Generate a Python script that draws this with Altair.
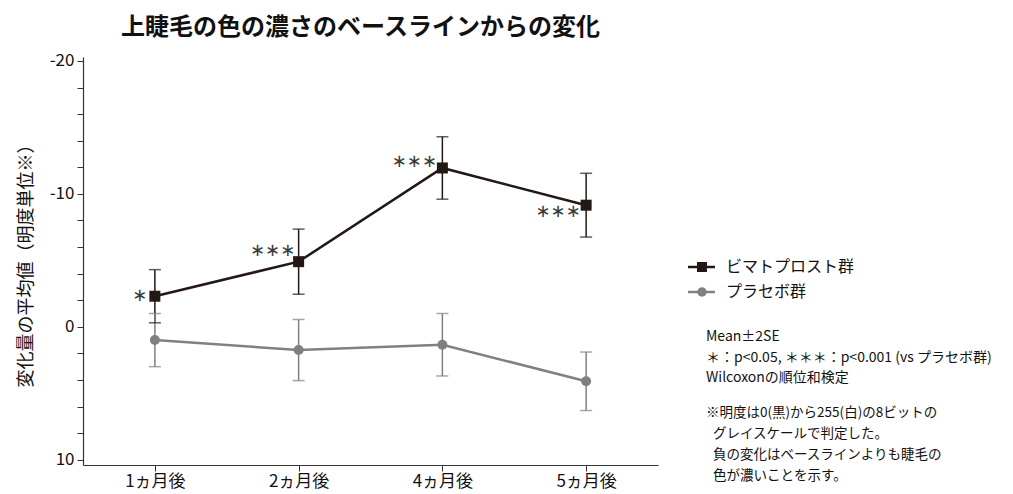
import altair as alt
import pandas as pd

# ---- data ----
months = ["1ヵ月後", "2ヵ月後", "4ヵ月後", "5ヵ月後"]
groups = ["ビマトプロスト群", "プラセボ群"]
bimat_mean = [-2.3, -4.9, -11.95, -9.15]
bimat_err = [2.0, 2.45, 2.35, 2.4]
placebo_mean = [1.0, 1.75, 1.35, 4.1]
placebo_err = [2.0, 2.3, 2.35, 2.2]
sig_labels = ["∗", "∗∗∗", "∗∗∗", "∗∗∗"]
y_tick_values = [-20, -18, -16, -14, -12, -10, -8, -6, -4, -2, 0, 2, 4, 6, 8, 10]
chart_title = "上睫毛の色の濃さのベースラインからの変化"
y_title = "変化量の平均値（明度単位※）"
note1 = ["Mean±2SE", "＊：p<0.05, ＊＊＊：p<0.001 (vs プラセボ群)", "Wilcoxonの順位和検定"]
note2_head = "※明度は0(黒)から255(白)の8ビットの"
note2_body = ["グレイスケールで判定した。",
              "負の変化はベースラインよりも睫毛の",
              "色が濃いことを示す。"]

colors = ["#231815", "#808080"]
FONT = "Noto Sans CJK JP"

rows = []
for g, means, errs in [(groups[0], bimat_mean, bimat_err), (groups[1], placebo_mean, placebo_err)]:
    for m, v, e in zip(months, means, errs):
        rows.append({"month": m, "group": g, "mean": v, "lo": v - e, "hi": v + e})
df = pd.DataFrame(rows)
sig_df = pd.DataFrame({"month": months, "mean": bimat_mean, "label": sig_labels})

x_enc = alt.X("month:O", sort=months,
              scale=alt.Scale(type="point", padding=0.5),
              axis=alt.Axis(title=None, labelAngle=0, labelFontSize=17, labelFont=FONT,
                            labelColor="#111", tickSize=6, labelPadding=2,
                            domainColor="#333", tickColor="#333", domainWidth=1.2))
y_scale = alt.Scale(domain=[-20.3, 10.4], reverse=True, nice=False, zero=False)
y_axis = alt.Axis(values=y_tick_values,
                  labelExpr="datum.value % 10 === 0 ? toString(datum.value) : ''",
                  title=y_title, titleFontSize=18, titleFont=FONT, titleFontWeight="normal",
                  titleColor="#111", titlePadding=14,
                  labelFontSize=17, labelFont=FONT, labelColor="#111",
                  tickSize=6, labelPadding=3, grid=False,
                  domainColor="#333", tickColor="#333", domainWidth=1.2)
color_enc = alt.Color("group:N", scale=alt.Scale(domain=groups, range=colors), legend=None)

base = alt.Chart(df)

rules = base.mark_rule(strokeWidth=1.5).encode(
    x=x_enc, y=alt.Y("lo:Q", scale=y_scale, axis=y_axis), y2="hi:Q", color=color_enc)
cap_lo = base.mark_tick(size=12, thickness=1.5).encode(
    x=x_enc, y=alt.Y("lo:Q", scale=y_scale, axis=y_axis), color=color_enc)
cap_hi = base.mark_tick(size=12, thickness=1.5).encode(
    x=x_enc, y=alt.Y("hi:Q", scale=y_scale, axis=y_axis), color=color_enc)
lines = base.mark_line(strokeWidth=2.5).encode(
    x=x_enc, y=alt.Y("mean:Q", scale=y_scale, axis=y_axis), color=color_enc,
    detail="group:N")
points = base.mark_point(filled=True, opacity=1).encode(
    x=x_enc, y=alt.Y("mean:Q", scale=y_scale, axis=y_axis), color=color_enc,
    shape=alt.Shape("group:N", scale=alt.Scale(domain=groups, range=["square", "circle"]), legend=None),
    size=alt.Size("group:N", scale=alt.Scale(domain=groups, range=[121, 100]), legend=None))

sig_offsets = [(-15, 0), (-26, -11), (-28, -6), (-28, 7)]
sig_layers = []
for m, (dx, dy) in zip(months, sig_offsets):
    sig_layers.append(
        alt.Chart(sig_df).transform_filter(alt.datum.month == m)
        .mark_text(font="DejaVu Sans", fontSize=18, color="#3c3c3c", dx=dx, dy=dy,
                   align="center", baseline="middle")
        .encode(x=x_enc, y=alt.Y("mean:Q", scale=y_scale, axis=y_axis), text="label:N"))

one = alt.Data(values=[{"k": 0}])
leg_y = [210, 235]
leg_shapes = ["square", "circle"]
leg_sizes = [100, 90]
legend_layers = []
for g, c, ly, sh, sz in zip(groups, colors, leg_y, leg_shapes, leg_sizes):
    legend_layers.append(alt.Chart(one).mark_rule(color=c, strokeWidth=2.5).encode(
        x=alt.value(605), x2=alt.value(632), y=alt.value(ly)))
    legend_layers.append(alt.Chart(one).mark_point(filled=True, opacity=1, color=c, shape=sh, size=sz).encode(
        x=alt.value(619), y=alt.value(ly)))
    legend_layers.append(alt.Chart(one).mark_text(text=g, font=FONT, fontSize=16, color="#111",
                                                  align="left", baseline="middle").encode(
        x=alt.value(643), y=alt.value(ly)))

note_layers = [
    alt.Chart(one).mark_text(text=note1, font=FONT, fontSize=14, color="#111", align="left",
                             baseline="middle", lineHeight=20.5).encode(
        x=alt.value(623), y=alt.value(280)),
    alt.Chart(one).mark_text(text=note2_head, font=FONT, fontSize=13.5, color="#111", align="left",
                             baseline="middle").encode(
        x=alt.value(623), y=alt.value(356)),
    alt.Chart(one).mark_text(text=note2_body, font=FONT, fontSize=13.5, color="#111", align="left",
                             baseline="middle", lineHeight=20.8).encode(
        x=alt.value(630), y=alt.value(377)),
]

chart = alt.layer(rules, cap_lo, cap_hi, lines, points, *sig_layers, *legend_layers, *note_layers).properties(
    width=575, height=408,
    title=alt.TitleParams(chart_title, font=FONT, fontSize=24, fontWeight="bold", color="#111",
                          anchor="middle", offset=12, dx=-10),
    autosize=alt.AutoSizeParams(type="none"),
    padding={"left": 75, "top": 49, "right": 340, "bottom": 26},
).configure(background="white").configure_view(stroke=None)

chart.save("out.html", embed_options={"renderer": "svg", "actions": False})
